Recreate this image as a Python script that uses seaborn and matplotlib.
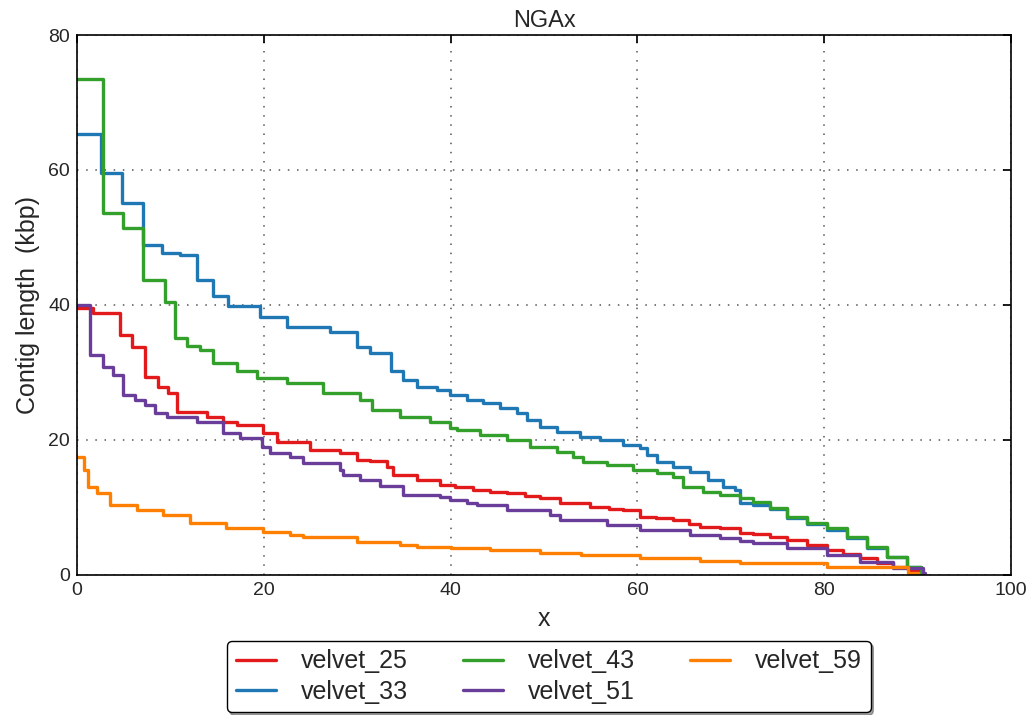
import matplotlib
matplotlib.use('Agg')
import matplotlib.pyplot as plt
import seaborn as sns
import pandas as pd

# step breakpoints (x, contig length in kbp)
x_25 = [0, 1.7, 4.6, 5.9, 7.3, 8.7, 9.7, 10.7, 13.9, 15.6, 17.1, 19.9, 21.4, 24.9, 28.2,
        30.0, 31.4, 33.2, 33.8, 36.4, 38.9, 40.5, 42.4, 44.2, 46.0, 48.0, 49.6, 51.7, 54.9,
        57.0, 58.5, 60.3, 62.0, 63.8, 65.5, 66.7, 68.8, 71.0, 72.4, 74.2, 76.0, 78.2, 80.3,
        82.0, 83.8, 85.6, 87.4, 89.0, 90.3, 90.5]
y_25 = [39.5, 38.8, 35.5, 33.8, 29.3, 27.9, 27.0, 24.2, 23.4, 22.7, 22.2, 21.0, 19.7, 18.5,
        18.0, 17.0, 16.8, 16.0, 14.8, 14.1, 13.3, 13.0, 12.6, 12.3, 12.1, 11.7, 11.4, 10.6,
        10.1, 9.8, 9.6, 8.6, 8.4, 8.1, 7.6, 7.1, 7.0, 6.2, 6.1, 5.6, 5.2, 4.4, 3.7, 3.1, 2.5,
        1.8, 1.2, 0.7, 0.3, 0.3]

x_33 = [0, 2.6, 4.8, 7.1, 9.1, 11.0, 12.8, 14.6, 16.2, 19.6, 22.5, 27.1, 30.0, 31.4, 33.6,
        34.9, 36.4, 38.5, 39.9, 41.8, 43.5, 45.3, 47.1, 48.2, 49.6, 51.4, 53.9, 56.0, 58.5,
        60.3, 61.0, 62.1, 63.8, 65.6, 67.5, 69.2, 70.4, 71.0, 72.4, 74.2, 76.0, 78.2, 80.3,
        82.4, 84.6, 86.7, 88.9, 90.3, 90.5]
y_33 = [65.3, 59.6, 55.1, 48.9, 47.7, 47.4, 43.7, 41.3, 39.9, 38.2, 36.8, 36.0, 33.8, 32.9,
        30.2, 28.9, 27.9, 27.4, 26.7, 25.9, 25.5, 24.7, 24.0, 23.0, 21.9, 21.2, 20.5, 20.0,
        19.3, 18.8, 17.8, 16.7, 16.0, 15.3, 14.1, 13.0, 12.6, 10.6, 10.4, 9.7, 8.4, 7.5, 6.6,
        5.5, 4.0, 2.6, 1.1, 0.3, 0.3]

x_43 = [0, 2.8, 4.9, 7.1, 9.4, 10.5, 11.8, 13.2, 14.6, 17.1, 19.3, 22.5, 26.3, 30.3, 31.6,
        34.6, 37.8, 39.9, 40.7, 43.1, 46.0, 48.5, 51.4, 53.1, 54.2, 56.7, 59.5, 62.1, 63.8,
        64.9, 67.0, 68.8, 71.0, 72.4, 74.2, 76.0, 78.2, 80.3, 82.4, 84.6, 86.7, 88.9, 90.3,
        90.5]
y_43 = [73.5, 53.6, 51.4, 43.7, 40.4, 35.1, 33.9, 33.3, 31.4, 30.2, 29.2, 28.4, 27.0, 25.9,
        24.4, 23.4, 22.7, 21.8, 21.5, 20.7, 20.0, 19.0, 18.2, 17.5, 16.7, 16.3, 15.6, 15.1,
        14.5, 13.0, 12.3, 11.9, 11.4, 10.8, 9.9, 8.6, 7.7, 7.0, 5.6, 4.1, 2.7, 1.2, 0.3, 0.3]

x_51 = [0, 1.4, 2.8, 3.9, 4.9, 6.2, 7.3, 8.4, 9.6, 12.8, 15.6, 17.5, 19.8, 20.7, 22.8, 24.2,
        28.2, 28.5, 30.3, 32.4, 34.9, 38.9, 39.9, 41.8, 42.8, 46.0, 50.6, 51.7, 56.7, 60.3,
        65.6, 68.8, 71.0, 72.4, 76.0, 80.3, 83.8, 87.4, 90.6, 90.8]
y_51 = [40.0, 32.6, 30.8, 29.6, 26.7, 25.9, 25.2, 24.0, 23.4, 22.7, 21.0, 20.3, 19.0, 18.0,
        17.5, 16.6, 15.6, 14.8, 14.1, 13.1, 11.9, 11.6, 11.1, 10.6, 10.4, 9.6, 8.9, 8.1, 7.4,
        6.7, 5.9, 5.5, 5.0, 4.7, 4.0, 3.0, 1.9, 1.0, 0.3, 0.3]

x_59 = [0, 0.7, 1.2, 2.1, 3.5, 6.4, 9.2, 12.1, 16.0, 19.9, 22.8, 24.2, 30.0, 34.6, 36.4,
        40.0, 44.2, 49.6, 54.0, 60.3, 66.7, 71.0, 80.3, 89.0, 90.0]
y_59 = [17.5, 15.5, 13.0, 12.1, 10.4, 9.6, 8.9, 7.7, 7.0, 6.4, 5.9, 5.6, 4.9, 4.4, 4.2, 4.0,
        3.7, 3.2, 2.9, 2.5, 2.0, 1.8, 1.2, 0.3, 0.2]

names = ['velvet_25', 'velvet_33', 'velvet_43', 'velvet_51', 'velvet_59']
colors = ['#E31A1C', '#1F78B4', '#33A02C', '#6A3D9A', '#FF7F00']

# build long table
frames = []
for name, xs, ys in zip(names, [x_25, x_33, x_43, x_51, x_59], [y_25, y_33, y_43, y_51, y_59]):
    frames.append(pd.DataFrame({'x': xs, 'length': ys, 'assembly': name}))
df = pd.concat(frames, ignore_index=True)

sns.set_theme(style='white')
plt.rcParams['font.family'] = ['Liberation Sans', 'DejaVu Sans']

fig, ax = plt.subplots(figsize=(10.36, 7.15), dpi=100)
fig.subplots_adjust(left=0.0743, right=0.976, top=0.951, bottom=0.196)

sns.lineplot(data=df, x='x', y='length', hue='assembly', hue_order=names,
             palette=dict(zip(names, colors)), drawstyle='steps-post',
             estimator=None, linewidth=2.4, ax=ax)

ax.set_xlim(0, 100)
ax.set_ylim(0, 80)
ax.set_xticks(range(0, 101, 20))
ax.set_yticks(range(0, 81, 20))
ax.grid(True, color='#555555', linestyle=(0, (1, 5)), linewidth=1.1)
ax.tick_params(direction='in', top=True, right=True, length=6, labelsize=14,
               color='black', pad=5)
for s in ax.spines.values():
    s.set_color('black')
    s.set_linewidth(1.2)

ax.set_title('NGAx', fontsize=17)
ax.set_xlabel('x', fontsize=18, labelpad=6)
ax.set_ylabel('Contig length  (kbp)', fontsize=18, labelpad=6)

handles, labels = ax.get_legend_handles_labels()
ax.legend(handles, labels, loc='upper center', bbox_to_anchor=(0.505, -0.122), ncol=3,
          fontsize=18, frameon=True, fancybox=True, shadow=True, edgecolor='black',
          handlelength=1.6, handletextpad=1.0, columnspacing=2.2, borderpad=0.35,
          labelspacing=0.25, borderaxespad=0)

fig.savefig('out.png', dpi=100)
